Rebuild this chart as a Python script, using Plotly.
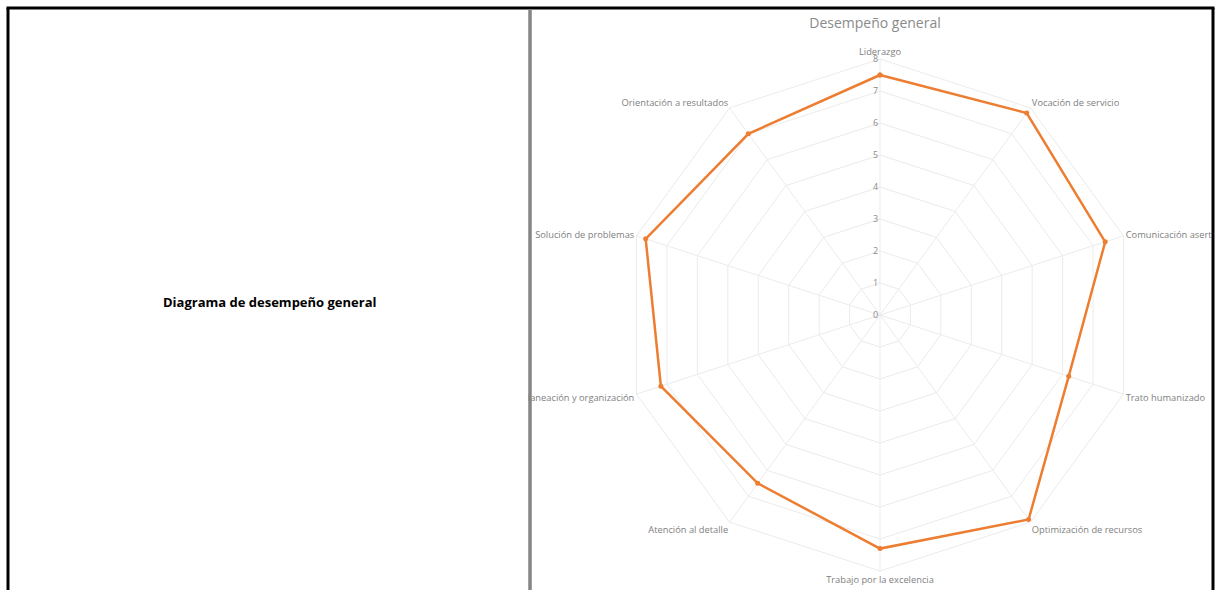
import plotly.graph_objects as go

W, H = 1217, 590

categories = [
    "Liderazgo",
    "Vocación de servicio",
    "Comunicación asertiva",
    "Trato humanizado",
    "Optimización de recursos",
    "Trabajo por la excelencia",
    "Atención al detalle",
    "Planeación y organización",
    "Solución de problemas",
    "Orientación a resultados",
]
values = [7.5, 7.8, 7.4, 6.2, 7.9, 7.3, 6.5, 7.2, 7.7, 7.0]
radial_ticks = [0, 1, 2, 3, 4, 5, 6, 7, 8]

chart_title = "Desempeño general"
cell_label = "Diagrama de desempeño general"

# closed loop
theta = categories + [categories[0]]
r = values + [values[0]]

fig = go.Figure()
fig.add_trace(go.Scatterpolar(
    r=r, theta=theta, mode="lines+markers",
    line=dict(color="#ED7D31", width=2.5),
    marker=dict(color="#ED7D31", size=5),
    showlegend=False,
))

def px(x):
    return x / W

def py(y):
    return 1 - y / H

cx, cy, rad = 880, 315, 256
grid = "#EBEBEB"

fig.update_layout(
    width=W, height=H, autosize=False,
    margin=dict(l=0, r=0, t=0, b=0),
    paper_bgcolor="white",
    font=dict(family="Open Sans", color="#808080"),
    polar=dict(
        domain=dict(x=[px(cx - rad), px(cx + rad)], y=[py(cy + rad), py(cy - rad)]),
        bgcolor="white",
        gridshape="linear",
        radialaxis=dict(
            range=[0, 8], tickvals=radial_ticks, angle=90,
            side="counterclockwise", tickangle=90,
            showline=False, gridcolor=grid, gridwidth=1,
            tickfont=dict(size=9, color="#8C8C8C"),
            ticks="",
        ),
        angularaxis=dict(
            rotation=90, direction="clockwise",
            gridcolor=grid, linecolor=grid, showline=True,
            tickfont=dict(size=9.3, color="#808080"),
            ticks="",
        ),
    ),
    title=dict(
        text=chart_title, x=px(875), y=py(23), xref="paper", yref="paper",
        xanchor="center", yanchor="middle",
        font=dict(size=14, color="#8A8A8A", family="Open Sans"),
    ),
)

shapes = [
    # masks for overflowing labels
    dict(type="rect", xref="paper", yref="paper", x0=0, x1=px(528), y0=0, y1=1,
         fillcolor="white", line=dict(width=0), layer="above"),
    dict(type="rect", xref="paper", yref="paper", x0=px(1212), x1=1, y0=0, y1=1,
         fillcolor="white", line=dict(width=0), layer="above"),
    dict(type="rect", xref="paper", yref="paper", x0=0, x1=1, y0=py(8), y1=1,
         fillcolor="white", line=dict(width=0), layer="above"),
    # borders
    dict(type="line", xref="paper", yref="paper", x0=px(6.5), x1=px(1214.5), y0=py(8), y1=py(8),
         line=dict(color="black", width=3), layer="above"),
    dict(type="line", xref="paper", yref="paper", x0=px(8), x1=px(8), y0=py(8), y1=0,
         line=dict(color="black", width=3), layer="above"),
    dict(type="line", xref="paper", yref="paper", x0=px(1213), x1=px(1213), y0=py(8), y1=0,
         line=dict(color="black", width=3), layer="above"),
    dict(type="line", xref="paper", yref="paper", x0=px(530), x1=px(530), y0=py(9), y1=0,
         line=dict(color="#858585", width=3.5), layer="above"),
]
fig.update_layout(shapes=shapes)

fig.add_annotation(
    text="<b>" + cell_label + "</b>", x=px(269), y=py(302), xref="paper", yref="paper",
    showarrow=False, xanchor="center", yanchor="middle",
    font=dict(size=13, color="black", family="Open Sans"),
)

fig.write_html("out.html")
